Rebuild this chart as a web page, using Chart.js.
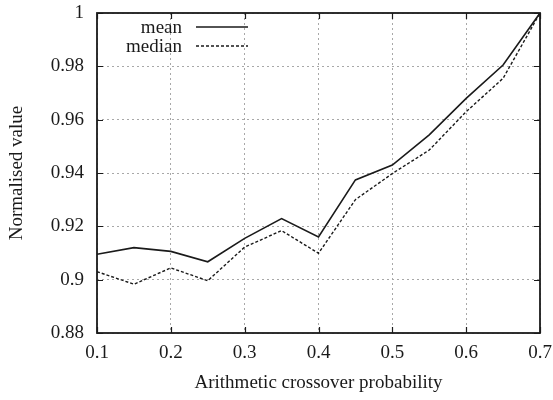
<!DOCTYPE html>
<html>
<head>
<meta charset="utf-8">
<script src="https://cdn.jsdelivr.net/npm/chart.js@4/dist/chart.umd.min.js"></script>
<style>
  html, body { margin: 0; padding: 0; background: #fff; }
  canvas { display: block; }
</style>
</head>
<body>
<canvas id="crossoverChart" width="553" height="400"></canvas>
<script>
// crossover probabilities along the x axis
const probabilities = [0.1, 0.15, 0.2, 0.25, 0.3, 0.35, 0.4, 0.45, 0.5, 0.55, 0.6, 0.65, 0.7];
// normalised results per probability
const meanValues = [0.9095, 0.912, 0.9106, 0.9067, 0.9155, 0.9229, 0.916, 0.9374, 0.943, 0.9543, 0.968, 0.9805, 1.0];
const medianValues = [0.903, 0.8983, 0.9044, 0.8996, 0.9122, 0.9184, 0.9099, 0.930, 0.9398, 0.9486, 0.963, 0.9755, 1.0];
const yTicks = [0.88, 0.9, 0.92, 0.94, 0.96, 0.98, 1];

const fontFamily = '"Liberation Serif", "Times New Roman", serif';
const ink = '#1a1a1a';

function toPoints(values) {
    return probabilities.map((p, i) => ({ x: p, y: values[i] }));
}

// frame, inward tick marks and the line-sample key, gnuplot style
const framePlugin = {
    id: 'frame',
    afterDatasetsDraw(chart) {
        const ctx = chart.ctx;
        const area = chart.chartArea;
        const xs = chart.scales.x;
        const ys = chart.scales.y;
        const tick = 6;

        ctx.save();
        ctx.strokeStyle = ink;
        ctx.lineWidth = 1.8;
        ctx.setLineDash([]);
        ctx.strokeRect(area.left, area.top, area.right - area.left, area.bottom - area.top);

        ctx.lineWidth = 1.2;
        ctx.beginPath();
        xs.ticks.forEach(t => {
            const px = Math.round(xs.getPixelForValue(t.value)) + 0.5;
            ctx.moveTo(px, area.bottom); ctx.lineTo(px, area.bottom - tick);
            ctx.moveTo(px, area.top); ctx.lineTo(px, area.top + tick);
        });
        ys.ticks.forEach(t => {
            const py = Math.round(ys.getPixelForValue(t.value)) + 0.5;
            ctx.moveTo(area.left, py); ctx.lineTo(area.left + tick, py);
            ctx.moveTo(area.right, py); ctx.lineTo(area.right - tick, py);
        });
        ctx.stroke();

        // key
        ctx.font = '19px ' + fontFamily;
        ctx.fillStyle = ink;
        ctx.textAlign = 'right';
        ctx.textBaseline = 'middle';
        const keyX = area.left + 85;
        const rows = [
            { label: 'mean', y: area.top + 15, dash: [] },
            { label: 'median', y: area.top + 34, dash: [3, 2] }
        ];
        rows.forEach(r => {
            ctx.fillText(r.label, keyX, r.y);
            ctx.beginPath();
            ctx.setLineDash(r.dash);
            ctx.lineWidth = 1.4;
            ctx.moveTo(keyX + 14, r.y - 1);
            ctx.lineTo(keyX + 66, r.y - 1);
            ctx.stroke();
        });
        ctx.restore();
    }
};

new Chart(document.getElementById('crossoverChart'), {
    type: 'line',
    data: {
        datasets: [
            {
                label: 'mean',
                data: toPoints(meanValues),
                borderColor: ink,
                borderWidth: 1.6,
                pointRadius: 0,
                tension: 0,
                fill: false
            },
            {
                label: 'median',
                data: toPoints(medianValues),
                borderColor: ink,
                borderWidth: 1.4,
                borderDash: [3, 2],
                pointRadius: 0,
                tension: 0,
                fill: false
            }
        ]
    },
    options: {
        responsive: false,
        animation: false,
        layout: { padding: { top: 13, right: 13, left: 0, bottom: 0 } },
        plugins: {
            legend: { display: false },
            tooltip: { enabled: false }
        },
        scales: {
            x: {
                type: 'linear',
                min: 0.1,
                max: 0.7,
                afterFit(scale) {
                    scale.height = 67;
                    scale.paddingLeft = 0;
                    scale.paddingRight = 0;
                },
                ticks: {
                    stepSize: 0.1,
                    padding: 9,
                    color: ink,
                    font: { family: fontFamily, size: 19 },
                    callback: v => String(Number(v.toFixed(1)))
                },
                grid: { color: '#a8a8a8', lineWidth: 1, drawTicks: false },
                border: { display: false, dash: [2, 3] },
                title: {
                    display: true,
                    text: 'Arithmetic crossover probability',
                    color: ink,
                    font: { family: fontFamily, size: 19 },
                    padding: { top: 0, bottom: 6 }
                }
            },
            y: {
                type: 'linear',
                min: 0.88,
                max: 1,
                afterFit(scale) {
                    scale.width = 97;
                    scale.paddingTop = 0;
                    scale.paddingBottom = 0;
                },
                afterBuildTicks(scale) { scale.ticks = yTicks.map(v => ({ value: v })); },
                ticks: {
                    padding: 13,
                    color: ink,
                    font: { family: fontFamily, size: 19 },
                    callback: v => String(Number(v.toFixed(2)))
                },
                grid: { color: '#a8a8a8', lineWidth: 1, drawTicks: false },
                border: { display: false, dash: [2, 3] },
                title: {
                    display: true,
                    text: 'Normalised value',
                    color: ink,
                    font: { family: fontFamily, size: 19 },
                    padding: { top: 6, bottom: 0 }
                }
            }
        }
    },
    plugins: [framePlugin]
});
</script>
</body>
</html>
